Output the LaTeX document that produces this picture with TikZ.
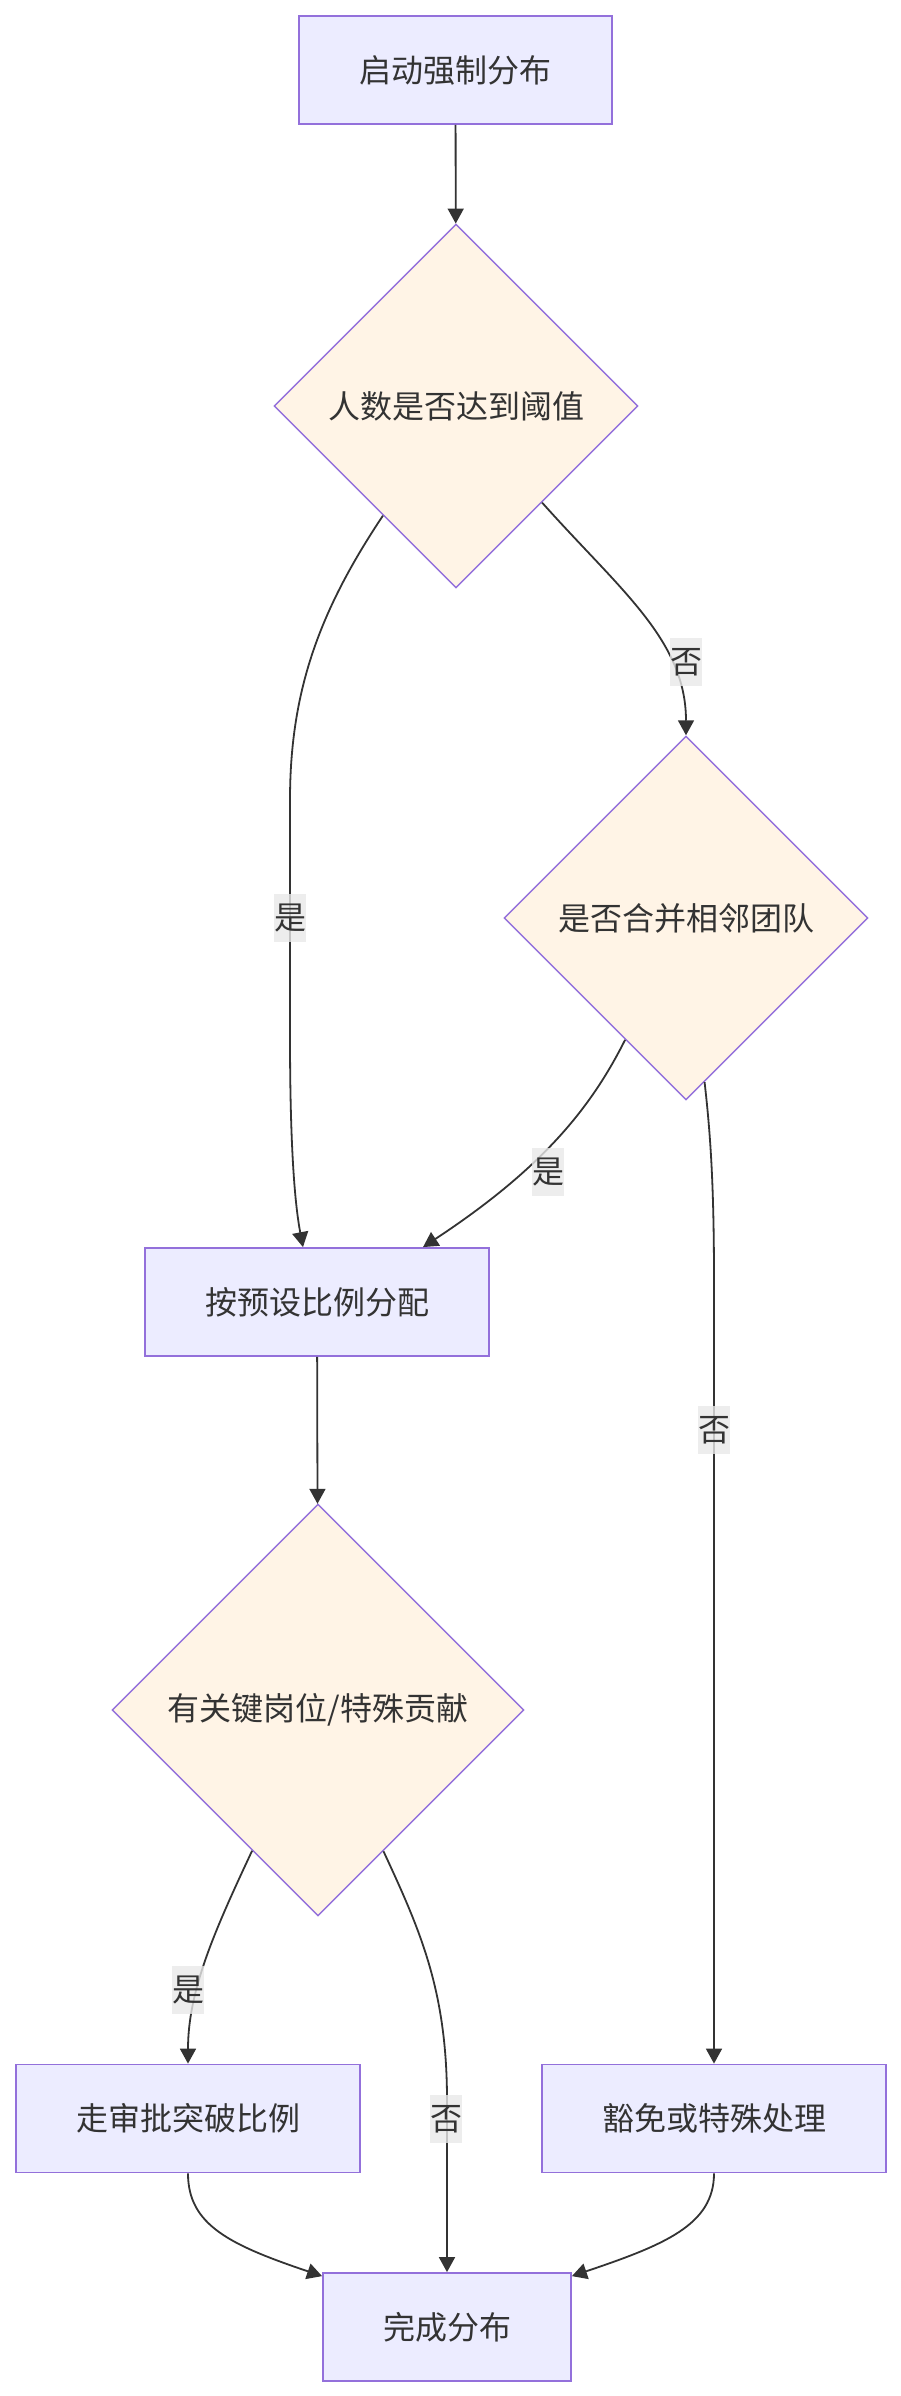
\documentclass[tikz,border=0pt]{standalone}
\usepackage{fontspec}
\setmainfont{Noto Sans CJK SC}
\usetikzlibrary{shapes.geometric,arrows.meta}
\definecolor{boxfill}{HTML}{ECECFF}
\definecolor{boxline}{HTML}{9370DB}
\definecolor{dfill}{HTML}{FFF4E6}
\definecolor{txt}{HTML}{333333}
\definecolor{lblbg}{HTML}{E8E8E8}
\begin{document}
\begin{tikzpicture}[x=1pt,y=-1pt,
  every node/.style={font=\fontsize{32}{38}\selectfont, text=txt},
  box/.style={draw=boxline, fill=boxfill, line width=1.8pt, minimum height=108pt, inner sep=0pt},
  dec/.style={diamond, aspect=1, draw=boxline, fill=dfill, line width=1.4pt, inner sep=0pt},
  arr/.style={draw=txt, line width=1.8pt, -{Triangle[length=15pt,width=16pt]}},
  lbl/.style={fill=lblbg, fill opacity=0.8, text opacity=1, inner sep=0pt, minimum width=32pt, minimum height=48pt}]
\useasboundingbox (0,0) rectangle (901,2396);
\node[box, minimum width=313pt] (start) at (455.5,70) {启动强制分布};
\node[dec, minimum width=364pt, minimum height=364pt] (d1) at (456,406) {人数是否达到阈值};
\node[dec, minimum width=364pt, minimum height=364pt] (d2) at (686,918) {是否合并相邻团队};
\node[box, minimum width=344pt] (b) at (317,1302) {按预设比例分配};
\node[dec, minimum width=412pt, minimum height=412pt] (d3) at (318,1710) {有关键岗位/特殊贡献};
\node[box, minimum width=344pt] (a) at (188,2118.5) {走审批突破比例};
\node[box, minimum width=344pt] (h) at (714,2118.5) {豁免或特殊处理};
\node[box, minimum width=248pt] (c) at (447,2327) {完成分布};

\draw[arr] (start) -- (d1);
\draw[arr] (d1) .. controls (320,610) and (290,690) .. (290,800) -- node[lbl]{是} (290,1036) .. controls (290,1160) and (296,1210) .. ([xshift=-14pt]b.north);
\draw[arr] (d1) .. controls (620,590) and (686,640) .. (d2) node[lbl] at (686,662) {否};
\draw[arr] (d2) .. controls (590,1110) and (540,1170) .. ([xshift=106pt]b.north) node[lbl] at (548,1172) {是};
\draw[arr] (d2) .. controls (710,1130) and (714,1180) .. (714,1280) -- (h) node[lbl] at (714,1430) {否};
\draw[arr] (b) -- (d3);
\draw[arr] (d3) .. controls (215,1930) and (188,1990) .. (a) node[lbl] at (188,1990) {是};
\draw[arr] (d3) .. controls (420,1930) and (447,1990) .. (447,2100) -- (c) node[lbl] at (446,2119) {否};
\draw[arr] (a) .. controls (188,2225) and (230,2245) .. ([yshift=-4pt]c.north west);
\draw[arr] (h) .. controls (714,2225) and (664,2245) .. ([yshift=-4pt]c.north east);
\end{tikzpicture}
\end{document}
